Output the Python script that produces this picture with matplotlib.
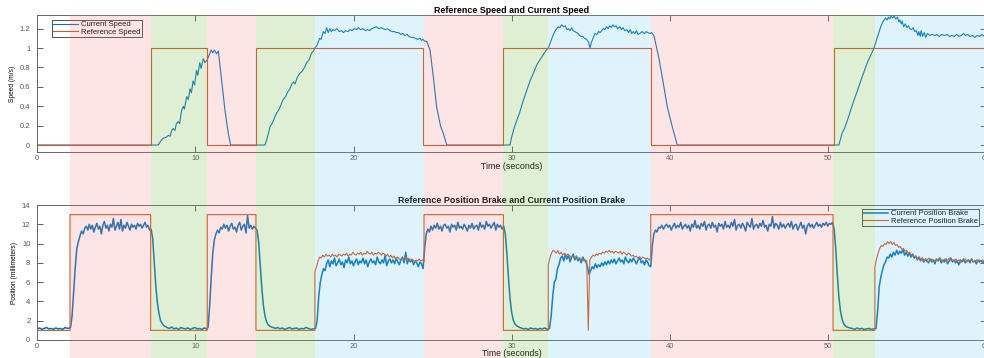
import numpy as np
import matplotlib
matplotlib.use('agg')
import matplotlib.pyplot as plt
from matplotlib.patches import Rectangle
from matplotlib.transforms import blended_transform_factory

plt.rcParams['font.family'] = ['Liberation Sans', 'DejaVu Sans']

# ---- phases of the run (seconds) ----
phase_edges = [2.07, 7.17, 10.75, 13.83, 17.56, 24.46, 29.48, 32.32, 38.8, 50.33, 52.98, 61.0]
phase_kind = ['brake', 'accel', 'brake', 'accel', 'cruise', 'brake',
              'accel', 'cruise', 'brake', 'accel', 'cruise']
phase_color = {'brake': (0.98, 0.50, 0.50, 0.20),
               'accel': (0.47, 0.745, 0.31, 0.24),
               'cruise': (0.39, 0.78, 0.94, 0.20)}

# ---- speed (m/s) ----
ref_speed_t = [0, 7.17, 7.17, 10.75, 10.75, 13.83, 13.83, 24.4, 24.4, 29.45, 29.45, 38.8, 38.8, 50.4, 50.4, 60]
ref_speed_v = [0, 0, 1, 1, 0, 0, 1, 1, 0, 0, 1, 1, 0, 0, 1, 1]

speed_run1 = [(0, 0), (7.65, 0), (7.8, 0.04), (7.97, 0.07), (8.15, 0.08), (8.3, 0.1), (8.4, 0.09),
              (8.5, 0.15), (8.6, 0.17), (8.7, 0.15), (8.8, 0.22), (8.92, 0.24), (9.0, 0.22), (9.13, 0.36),
              (9.24, 0.4), (9.3, 0.37), (9.45, 0.5), (9.55, 0.47), (9.66, 0.58), (9.75, 0.54), (9.85, 0.66),
              (9.95, 0.62), (10.07, 0.77), (10.15, 0.72), (10.28, 0.85), (10.36, 0.79), (10.5, 0.89),
              (10.6, 0.85), (10.75, 0.88), (10.85, 0.92), (11.0, 0.98), (11.1, 0.95), (11.2, 0.98),
              (11.34, 0.94), (11.45, 0.97), (11.66, 0.67), (11.87, 0.36), (12.08, 0.12), (12.23, 0.0)]
speed_run2 = [(14.4, 0), (14.5, 0.05), (14.62, 0.12), (14.72, 0.19), (14.85, 0.22), (15.0, 0.28),
              (15.14, 0.33), (15.3, 0.37), (15.45, 0.43), (15.56, 0.47), (15.7, 0.5), (15.85, 0.55),
              (15.98, 0.58), (16.1, 0.63), (16.2, 0.65), (16.3, 0.63), (16.45, 0.7), (16.61, 0.74),
              (16.75, 0.76), (16.9, 0.8), (17.04, 0.85), (17.2, 0.88), (17.35, 0.95), (17.47, 0.97),
              (17.56, 1.0), (17.7, 1.03), (17.85, 1.1), (17.95, 1.09), (18.09, 1.17), (18.2, 1.15),
              (18.3, 1.21), (18.4, 1.16), (18.5, 1.2), (18.6, 1.17), (18.7, 1.19), (18.8, 1.18),
              (18.95, 1.2), (19.1, 1.17), (19.25, 1.18), (19.36, 1.16), (19.5, 1.18), (19.65, 1.17),
              (19.78, 1.19), (19.9, 1.18), (20.05, 1.2), (20.2, 1.19), (20.3, 1.21), (20.45, 1.19),
              (20.6, 1.2), (20.75, 1.18), (20.9, 1.19), (21.0, 1.18), (21.15, 1.2), (21.3, 1.21),
              (21.45, 1.22), (21.6, 1.2), (21.75, 1.21), (21.87, 1.2), (22.0, 1.19), (22.15, 1.2),
              (22.3, 1.18), (22.45, 1.17), (22.6, 1.17), (22.7, 1.16), (22.85, 1.16), (23.0, 1.14),
              (23.1, 1.15), (23.25, 1.13), (23.4, 1.14), (23.5, 1.12), (23.65, 1.11), (23.8, 1.11),
              (23.9, 1.1), (24.05, 1.09), (24.2, 1.1), (24.3, 1.08), (24.4, 1.09), (24.5, 1.07),
              (24.63, 1.07), (24.84, 0.98), (25.05, 0.70), (25.26, 0.39), (25.5, 0.2), (25.68, 0.12),
              (25.9, 0.0)]
speed_run3 = [(29.9, 0), (30.0, 0.08), (30.15, 0.17), (30.32, 0.25), (30.5, 0.33), (30.74, 0.46),
              (30.95, 0.56), (31.16, 0.66), (31.4, 0.75), (31.6, 0.83), (31.8, 0.88), (32.0, 0.93),
              (32.15, 0.97), (32.32, 1.0), (32.5, 1.08), (32.64, 1.14), (32.8, 1.19), (32.95, 1.22),
              (33.05, 1.21), (33.17, 1.24), (33.3, 1.22), (33.4, 1.23), (33.5, 1.19), (33.6, 1.2),
              (33.7, 1.18), (33.8, 1.21), (33.9, 1.18), (34.0, 1.17), (34.1, 1.16), (34.2, 1.15),
              (34.3, 1.13), (34.4, 1.12), (34.5, 1.12), (34.6, 1.1), (34.75, 1.09), (34.87, 1.06),
              (34.96, 1.0), (35.05, 1.06), (35.15, 1.1), (35.27, 1.15), (35.4, 1.14), (35.5, 1.17),
              (35.6, 1.16), (35.7, 1.18), (35.8, 1.2), (35.9, 1.19), (36.0, 1.22), (36.1, 1.2),
              (36.2, 1.23), (36.3, 1.21), (36.4, 1.24), (36.5, 1.22), (36.6, 1.23), (36.7, 1.2),
              (36.85, 1.22), (36.95, 1.19), (37.05, 1.21), (37.15, 1.18), (37.3, 1.19), (37.4, 1.16),
              (37.5, 1.19), (37.6, 1.15), (37.7, 1.17), (37.8, 1.15), (37.9, 1.18), (38.0, 1.14),
              (38.1, 1.15), (38.25, 1.17), (38.4, 1.15), (38.5, 1.17), (38.6, 1.16), (38.74, 1.15),
              (38.85, 1.16), (39.0, 1.13), (39.3, 0.91), (39.53, 0.70), (39.85, 0.39), (40.16, 0.19),
              (40.48, 0.0)]
speed_run4 = [(50.7, 0), (50.9, 0.12), (51.05, 0.17), (51.23, 0.25), (51.45, 0.36), (51.65, 0.46),
              (51.85, 0.55), (52.08, 0.66), (52.3, 0.76), (52.5, 0.85), (52.7, 0.92), (52.92, 1.0),
              (53.02, 1.05), (53.13, 1.11), (53.25, 1.17), (53.35, 1.22), (53.45, 1.26), (53.56, 1.29),
              (53.65, 1.31), (53.75, 1.29), (53.85, 1.32), (53.92, 1.3), (54.0, 1.33), (54.1, 1.31),
              (54.2, 1.33), (54.3, 1.3), (54.4, 1.32), (54.5, 1.27), (54.55, 1.29), (54.65, 1.25),
              (54.7, 1.28), (54.8, 1.22), (54.9, 1.25), (55.0, 1.21), (55.1, 1.23), (55.2, 1.2),
              (55.3, 1.19), (55.4, 1.21), (55.5, 1.17), (55.6, 1.18), (55.7, 1.13), (55.75, 1.17),
              (55.85, 1.12), (55.9, 1.18), (56.0, 1.12), (56.1, 1.16), (56.2, 1.11), (56.3, 1.15),
              (56.45, 1.13), (56.6, 1.14), (56.75, 1.13), (56.9, 1.14), (57.05, 1.12), (57.2, 1.14),
              (57.4, 1.13), (57.55, 1.14), (57.7, 1.12), (57.85, 1.13), (58.0, 1.12), (58.15, 1.14),
              (58.3, 1.12), (58.45, 1.13), (58.6, 1.15), (58.7, 1.13), (58.85, 1.14), (59.0, 1.12),
              (59.15, 1.13), (59.3, 1.11), (59.45, 1.13), (59.6, 1.12), (59.75, 1.14), (59.9, 1.12),
              (60.0, 1.13)]

# ---- brake position (mm), current ----
pos_idle = [1.15, 1.25, 1.1, 1.2, 1.3, 1.15, 1.2, 1.1, 1.25, 1.15, 1.2, 1.1, 1.3, 1.2, 1.25]
pos_rise1 = [1.3, 2.5, 5.0, 7.5, 9.5, 10.2, 10.8, 11.3, 11.0, 11.6]
pos_hold1 = [11.8, 11.4, 12.0, 11.5, 11.9, 11.2, 11.7, 12.1, 11.5, 11.8, 11.0, 11.9, 12.3, 11.6, 11.9,
             11.3, 12.0, 11.7, 12.6, 11.4, 11.8, 12.2, 11.5, 12.5, 11.3, 11.9, 11.6, 12.2, 11.8, 11.4,
             12.0, 11.7, 11.9, 11.5, 12.1, 11.8, 12.0, 11.6, 11.9, 12.2, 11.7, 11.9, 11.4]
pos_drop1 = [11.5, 10.5, 8.0, 5.5, 3.8, 2.7, 2.0, 1.7, 1.5, 1.4, 1.3]
pos_low1 = [1.2, 1.35, 1.15, 1.25, 1.1, 1.3, 1.2, 1.15, 1.25, 1.1, 1.2, 1.3, 1.15, 1.2, 1.1, 1.25, 1.15]
pos_rise2 = [1.3, 3.5, 6.5, 9.0, 10.4, 11.0, 11.4, 11.1, 11.7]
pos_hold2 = [11.5, 12.0, 11.6, 11.9, 11.3, 11.8, 12.1, 11.5, 11.7, 11.2, 11.9, 12.2, 11.4, 11.8, 12.0,
             11.1, 12.9, 11.6, 11.9, 11.5, 11.8, 11.6]
pos_drop2 = [11.4, 10.2, 7.8, 5.4, 3.6, 2.5, 1.9, 1.6, 1.45, 1.35, 1.3]
pos_low2 = [1.2, 1.3, 1.15, 1.25, 1.1, 1.2, 1.3, 1.15, 1.2, 1.25, 1.1, 1.2, 1.15, 1.3, 1.2, 1.1, 1.15, 1.2]
pos_rise3 = [2.0, 4.5, 6.0, 6.8, 7.4, 7.2, 7.9]
pos_cruise1 = [8.3, 7.6, 8.2, 7.9, 8.5, 7.7, 8.0, 8.4, 7.8, 8.1, 7.5, 8.3, 8.0, 8.6, 7.9, 8.2, 7.7, 8.1,
               8.4, 7.8, 8.2, 8.0, 8.5, 7.9, 8.3, 7.6, 8.1, 8.4, 8.0, 8.2, 7.8, 8.6, 8.1, 7.9, 8.3, 8.0,
               8.8, 7.7, 8.2, 8.4, 8.0, 8.3, 7.9, 8.5, 8.1, 7.8, 8.3, 8.6, 8.0, 9.1, 7.9, 8.4, 8.1, 8.3,
               7.8, 8.2, 8.0, 7.6, 8.1, 7.9, 7.4]
pos_rise4 = [9.5, 11.0, 11.5, 11.2, 11.8]
pos_hold3 = [11.4, 11.9, 11.6, 12.1, 11.5, 11.8, 11.3, 11.9, 12.0, 11.6, 11.8, 11.2, 12.0, 11.7, 11.9,
             11.4, 12.2, 11.6, 11.8, 11.5, 12.0, 11.7, 11.3, 11.9, 11.6, 12.1, 11.5, 11.8, 11.9, 11.4,
             12.2, 11.7, 11.9, 11.5, 12.3, 11.8, 12.0, 11.6, 11.9, 12.2, 11.4, 12.0, 11.7, 11.9, 11.5, 11.8]
pos_drop3 = [11.0, 9.0, 6.5, 4.3, 2.9, 2.1, 1.7, 1.5, 1.4, 1.3, 1.25]
pos_low3 = [1.15, 1.2, 1.1, 1.25, 1.15, 1.2, 1.1, 1.2, 1.15, 1.25, 1.1, 1.2]
pos_rise5 = [2.5, 4.5, 6.0, 6.3, 7.4, 7.8, 8.5]
pos_cruise2 = [8.7, 8.2, 8.9, 8.4, 8.8, 8.1, 8.6, 8.9, 8.3, 8.7, 8.2, 8.5, 8.0, 8.6, 8.3, 8.1, 7.6, 6.8,
               7.2, 7.6, 7.4, 7.9, 7.5, 7.8, 7.6, 8.0, 7.7, 8.1, 7.8, 8.2, 7.9, 8.3, 8.0, 8.4, 7.9, 8.2,
               8.5, 8.1, 8.3, 7.9, 8.6, 8.2, 8.0, 8.4, 8.1, 8.5, 8.2, 7.9, 8.3, 8.6, 8.0, 8.2, 7.8, 8.3,
               8.1, 7.7, 7.6]
pos_rise6 = [9.8, 11.0, 11.4, 11.2, 11.7]
pos_hold4 = [11.6, 11.9, 11.5, 11.8, 12.0, 11.7, 11.9, 11.4, 11.8, 12.1,
             11.6, 11.9, 11.7, 12.2, 11.5, 11.8, 12.0, 11.6, 11.9, 11.3,
             12.0, 11.7, 12.4, 11.6, 11.9, 11.5, 12.1, 11.8, 12.3, 11.4,
             11.9, 12.0, 11.6, 12.2, 11.7, 11.9, 11.2, 12.1, 11.8, 12.0,
             11.5, 12.3, 11.7, 11.9, 11.6, 12.2, 11.8, 12.5, 11.4, 11.9,
             12.0, 11.6, 12.1, 11.8, 11.3, 12.2, 11.9, 11.7, 12.6, 11.5,
             11.9, 12.0, 11.6, 12.1, 11.8, 12.4, 11.7, 11.9, 11.3, 12.0,
             11.8, 12.8, 11.6, 12.1, 11.9, 11.5, 12.2, 11.7, 12.0, 11.6,
             11.9, 12.1, 11.7, 12.3, 11.5, 11.9, 12.0, 11.4, 11.8, 12.2,
             11.6, 11.9, 11.0, 11.8, 12.1, 11.7, 12.0, 11.6, 11.9, 12.2,
             11.8, 12.0, 11.7, 12.1, 11.9, 12.2, 11.8, 12.1, 12.0, 12.2]
pos_drop4 = [11.5, 9.5, 6.8, 4.5, 3.0, 2.2, 1.7, 1.5, 1.35, 1.3, 1.25]
pos_low4 = [1.2, 1.1, 1.25, 1.15, 1.2, 1.1, 1.15, 1.2, 1.1, 1.15, 1.2]
pos_rise7 = [3.0, 5.5, 6.5, 7.2, 7.8, 8.1, 8.6]
pos_cruise3 = [8.5, 8.9, 8.6, 9.1, 8.8, 9.3, 8.9, 9.2, 9.0, 9.4, 8.8, 9.1, 8.7, 9.0, 8.6, 8.9, 8.5, 8.7,
               8.3, 8.6, 8.2, 8.5, 8.1, 8.4, 8.2, 8.0, 8.4, 8.1, 8.3, 7.9, 8.4, 8.2, 8.5, 8.0, 8.3, 8.1,
               8.4, 7.9, 8.2, 8.5, 8.1, 8.3, 8.0, 8.2, 7.8, 8.3, 8.1, 8.4, 8.0, 8.2, 8.3, 8.0, 8.4, 8.1,
               8.2, 7.9, 8.3, 8.1, 8.2, 8.0, 8.2, 8.1]

# ---- brake position (mm), reference ----
ref_cruise1 = [7.1, 7.6, 8.2, 8.6, 8.5, 8.8, 8.6, 8.9, 8.7, 8.8, 8.6, 8.9, 8.7, 8.8, 8.6, 8.9, 8.8, 8.7,
               8.9, 8.8, 9.0, 8.7, 8.9, 8.8, 9.1, 8.9, 8.8, 9.0, 8.9, 9.1, 8.8, 9.0, 8.9, 9.2, 9.0, 8.9,
               9.1, 8.8, 9.0, 8.9, 9.1, 9.0, 8.8, 9.0, 8.9, 8.7, 8.9, 8.6, 8.8, 8.5, 8.7, 8.4, 8.6, 8.5,
               8.3, 8.5, 8.4, 8.6, 8.3, 8.5, 8.2, 8.4, 8.3, 8.1, 8.3, 8.2, 8.4, 8.2, 8.3, 8.1]
ref_cruise2a = [7.8, 8.5, 9.0, 9.3, 9.2, 9.0, 9.3, 8.9, 9.1, 8.8, 9.0, 8.7, 8.9, 8.8, 8.6, 8.7, 8.5,
                8.6, 8.4, 8.5, 8.3, 8.4, 8.2, 8.3, 8.2]
ref_dip = [1.0]
ref_cruise2b = [8.3, 8.6, 8.8, 8.7, 8.9, 8.8, 9.0, 8.9, 9.1, 9.0, 9.2, 9.1, 9.3, 9.1, 9.2, 9.0, 9.2,
                9.1, 9.0, 9.2, 8.9, 9.1, 9.0, 8.8, 9.0, 8.9, 8.7, 8.8, 8.6, 8.7, 8.5, 8.6, 8.4, 8.6,
                8.5, 8.4, 8.5, 8.3, 8.4]
ref_cruise3 = [7.6, 8.4, 9.0, 9.5, 9.8, 9.7, 10.0, 9.9, 10.2, 10.0, 10.2, 9.9, 10.1, 9.8, 9.9, 9.6,
               9.7, 9.4, 9.5, 9.2, 9.3, 9.0, 9.1, 8.8, 8.9, 8.6, 8.7, 8.4, 8.6, 8.3, 8.5, 8.2, 8.4,
               8.3, 8.5, 8.2, 8.4, 8.1, 8.3, 8.4, 8.2, 8.5, 8.3, 8.1, 8.4, 8.2, 8.3, 8.5, 8.2, 8.3,
               8.1, 8.4, 8.2, 8.3, 8.0, 8.3, 8.2, 8.4, 8.1, 8.3, 8.2, 8.4, 8.1, 8.2, 8.3, 8.1, 8.3,
               8.2, 8.3, 8.1, 8.2]
brake_on = 13
brake_off = 1

# (start, end, samples) for each piece of the traces
pos_cur_pieces = [(0.0, 2.05, pos_idle), (2.1, 3.0, pos_rise1), (3.1, 7.1, pos_hold1),
                  (7.2, 8.2, pos_drop1), (8.35, 10.7, pos_low1), (10.8, 11.6, pos_rise2),
                  (11.7, 13.8, pos_hold2), (13.9, 14.9, pos_drop2), (15.05, 17.6, pos_low2),
                  (17.7, 18.3, pos_rise3), (18.4, 24.4, pos_cruise1), (24.5, 24.9, pos_rise4),
                  (25.0, 29.5, pos_hold3), (29.6, 30.6, pos_drop3), (30.75, 32.4, pos_low3),
                  (32.5, 33.1, pos_rise5), (33.2, 38.8, pos_cruise2), (38.9, 39.3, pos_rise6),
                  (39.4, 50.3, pos_hold4), (50.4, 51.4, pos_drop4), (51.55, 53.05, pos_low4),
                  (53.15, 53.75, pos_rise7), (53.85, 60.0, pos_cruise3)]
pos_ref_pieces = [(0.0, 2.07, [brake_off] * 2), (2.07, 7.17, [brake_on] * 2),
                  (7.17, 10.75, [brake_off] * 2), (10.75, 13.83, [brake_on] * 2),
                  (13.83, 17.56, [brake_off] * 2), (17.56, 24.46, ref_cruise1),
                  (24.46, 29.48, [brake_on] * 2), (29.48, 32.32, [brake_off] * 2),
                  (32.32, 34.75, ref_cruise2a), (34.85, 34.85, ref_dip), (34.95, 38.8, ref_cruise2b),
                  (38.8, 50.33, [brake_on] * 2), (50.33, 52.98, [brake_off] * 2),
                  (52.98, 60.0, ref_cruise3)]


def join_pieces(pieces):
    ts, vs = [], []
    for t0, t1, vals in pieces:
        ts.append(np.linspace(t0, t1, len(vals)))
        vs.append(np.asarray(vals, dtype=float))
    return np.concatenate(ts), np.concatenate(vs)


speed_pts = np.array(speed_run1 + speed_run2 + speed_run3 + speed_run4)
pos_cur_t, pos_cur_v = join_pieces(pos_cur_pieces)
pos_ref_t, pos_ref_v = join_pieces(pos_ref_pieces)

blue = '#0072BD'
orange = '#D95319'
W, H = 984, 358

fig = plt.figure(figsize=(W / 100, H / 100), dpi=100)
ax1 = fig.add_axes([37.3 / W, 206 / H, 948.6 / W, 137 / H])
ax2 = fig.add_axes([37.3 / W, 18 / H, 948.6 / W, 135 / H])

ax1.plot(speed_pts[:, 0], speed_pts[:, 1], color=blue, lw=0.8, label='Current Speed')
ax1.plot(ref_speed_t, ref_speed_v, color=orange, lw=0.8, label='Reference Speed')
ax1.set_ylim(-0.072, 1.341)
ax1.set_yticks([0, 0.2, 0.4, 0.6, 0.8, 1, 1.2])
ax1.set_yticklabels(['0', '0.2', '0.4', '0.6', '0.8', '1', '1.2'])
ax1.set_ylabel('Speed (m/s)', fontsize=4.8, labelpad=3)
ax1.set_title('Reference Speed and Current Speed', fontsize=6.4, fontweight='bold', pad=1.5)
ax1.set_xlabel('Time (seconds)', fontsize=6.4, labelpad=0)

ax2.plot(pos_cur_t, pos_cur_v, color=blue, lw=1.1, label='Current Position Brake')
ax2.plot(pos_ref_t, pos_ref_v, color=orange, lw=0.8, label='Reference Position Brake')
ax2.set_ylim(0, 14)
ax2.set_yticks(range(0, 15, 2))
ax2.set_ylabel('Position (millimeters)', fontsize=4.8, labelpad=3)
ax2.set_title('Reference Position Brake and Current Position Brake', fontsize=6.4,
              fontweight='bold', pad=1.5)
ax2.set_xlabel('Time (seconds)', fontsize=6.2, labelpad=-0.6)

for ax in (ax1, ax2):
    ax.set_xlim(0, 60)
    ax.set_xticks(range(0, 61, 10))
    ax.tick_params(direction='in', length=4, width=0.6, top=True, right=True,
                   labelsize=5.5, color='#444444', labelcolor='#555555')
    ax.tick_params(axis='y', pad=5)
ax1.tick_params(axis='x', pad=2.5)
ax2.tick_params(axis='x', pad=1.8)
for ax in (ax1, ax2):
    for s in ax.spines.values():
        s.set_color('#666666')
        s.set_linewidth(0.7)

leg_kw = dict(fontsize=5.5, handlelength=3.3, handletextpad=0.35, borderpad=0.15, labelspacing=0.0,
              fancybox=False, framealpha=1, edgecolor='#333333', borderaxespad=0,
              bbox_transform=fig.transFigure)
l1 = ax1.legend(loc='upper left', bbox_to_anchor=(52 / W, 1 - 20 / H), **leg_kw)
l2 = ax2.legend(loc='upper right', bbox_to_anchor=(979 / W, 1 - 209 / H), **leg_kw)
for lg in (l1, l2):
    lg.get_frame().set_linewidth(0.6)

# translucent phase bands laid over both plots
band_tf = blended_transform_factory(ax1.transData, fig.transFigure)
for t0, t1, kind in zip(phase_edges[:-1], phase_edges[1:], phase_kind):
    fig.add_artist(Rectangle((t0, 0), t1 - t0, 343 / H, transform=band_tf,
                             facecolor=phase_color[kind], edgecolor='none', zorder=5))

fig.savefig('out.png', dpi=100)
